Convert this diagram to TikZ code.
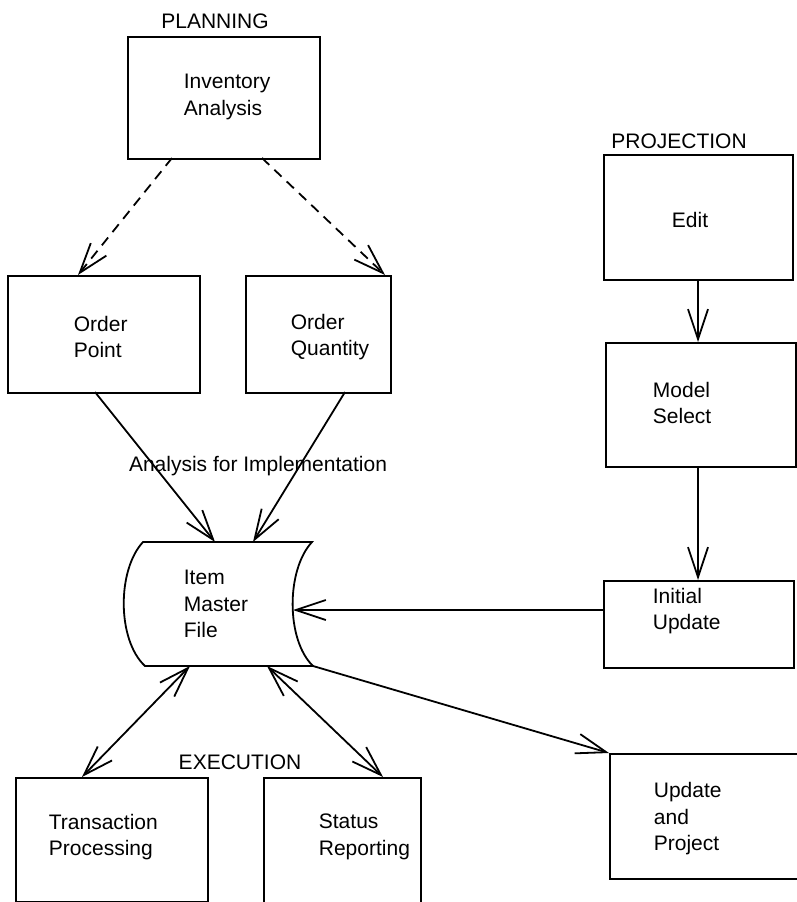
\documentclass[tikz,border=0pt]{standalone}
\usepackage{fontspec}
\setmainfont{Liberation Sans}
\usetikzlibrary{arrows.meta}

\begin{document}
\begin{tikzpicture}[x=1pt,y=-1pt,
  line width=1.8pt,
  font=\fontsize{21}{26.5}\selectfont,
  procbox/.style={draw, rectangle, inner sep=0pt, anchor=north west},
  txt/.style={anchor=west, inner sep=0pt, align=left},
  heading/.style={inner sep=0pt},
  barb/.style={-{Straight Barb[length=30pt,width=20pt]}},
  dblbarb/.style={{Straight Barb[length=30pt,width=20pt]}-{Straight Barb[length=30pt,width=20pt]}},
  dashline/.style={dash pattern=on 10pt off 7pt}
]
\useasboundingbox (0,0) rectangle (796,902);

% ---------- planning ----------
\node[heading] (planH) at (215,21) {PLANNING};
\node[procbox, minimum width=192pt, minimum height=122pt] (inv) at (127,36) {};
\node[txt] (invT) at (183,97) {Inventory\\Analysis};

\node[procbox, minimum width=192pt, minimum height=117pt] (op) at (7,275) {};
\node[txt] (opT) at (73,337) {Order\\Point};
\node[procbox, minimum width=145pt, minimum height=117pt] (oq) at (245,275) {};
\node[txt] (oqT) at (290,337) {Order\\Quantity};

\coordinate (invL) at (172,158);
\coordinate (invR) at (262,158);
\coordinate (opTop) at (78,275);
\coordinate (oqTop) at (385,275);
\draw[barb, dashline] (invL) -- (opTop);
\draw[barb, dashline] (invR) -- (oqTop);

% ---------- item master file ----------
\draw (143,542) -- (312,542)
      .. controls (286,570) and (286,640) .. (313,666)
      -- (145,666)
      .. controls (117,640) and (117,570) .. (143,542) -- cycle;
\node[txt] (imfT) at (183,604) {Item\\Master\\File};
\coordinate (imfTopL) at (215,542);
\coordinate (imfTopR) at (253,542);
\coordinate (imfRight) at (293,610);
\coordinate (imfBotL) at (190,666);
\coordinate (imfBotR) at (267,666);
\coordinate (imfCorner) at (313,666);

\coordinate (opBot) at (95,392);
\coordinate (oqBot) at (345,392);
\draw[barb] (opBot) -- (imfTopL);
\draw[barb] (oqBot) -- (imfTopR);
\node[heading] (implT) at (258,466) {Analysis for Implementation};

% ---------- projection ----------
\node[heading] (projH) at (679,141) {PROJECTION};
\node[procbox, minimum width=189pt, minimum height=125pt] (edit) at (603,154) {};
\node[txt] (editT) at (671,220) {Edit};
\node[procbox, minimum width=190pt, minimum height=124pt] (ms) at (605,342) {};
\node[txt] (msT) at (652,403) {Model\\Select};
\node[procbox, minimum width=190pt, minimum height=87pt] (iu) at (603,580) {};
\node[txt] (iuT) at (652,611) {Initial\\Update};
\node[procbox, minimum width=200pt, minimum height=125pt] (uap) at (609,753) {};
\node[txt] (uapT) at (653,819) {Update\\and\\Project};

\draw[barb] (edit.south -| 698,0) -- (ms.north -| 698,0);
\draw[barb] (ms.south -| 698,0) -- (iu.north -| 698,0);
\draw[barb] (iu.west |- 0,610) -- (imfRight);
\draw[barb] (imfCorner) -- (uap.north west);

% ---------- execution ----------
\node[heading] (execH) at (240,762) {EXECUTION};
\node[procbox, minimum width=192pt, minimum height=124pt] (tp) at (15,777) {};
\node[txt] (tpT) at (48,837) {Transaction\\Processing};
\node[procbox, minimum width=157pt, minimum height=140pt] (sr) at (263,777) {};
\node[txt] (srT) at (318,837) {Status\\Reporting};

\draw[dblbarb] (imfBotL) -- (tp.north -| 82,0);
\draw[dblbarb] (imfBotR) -- (sr.north -| 383,0);
\end{tikzpicture}
\end{document}
